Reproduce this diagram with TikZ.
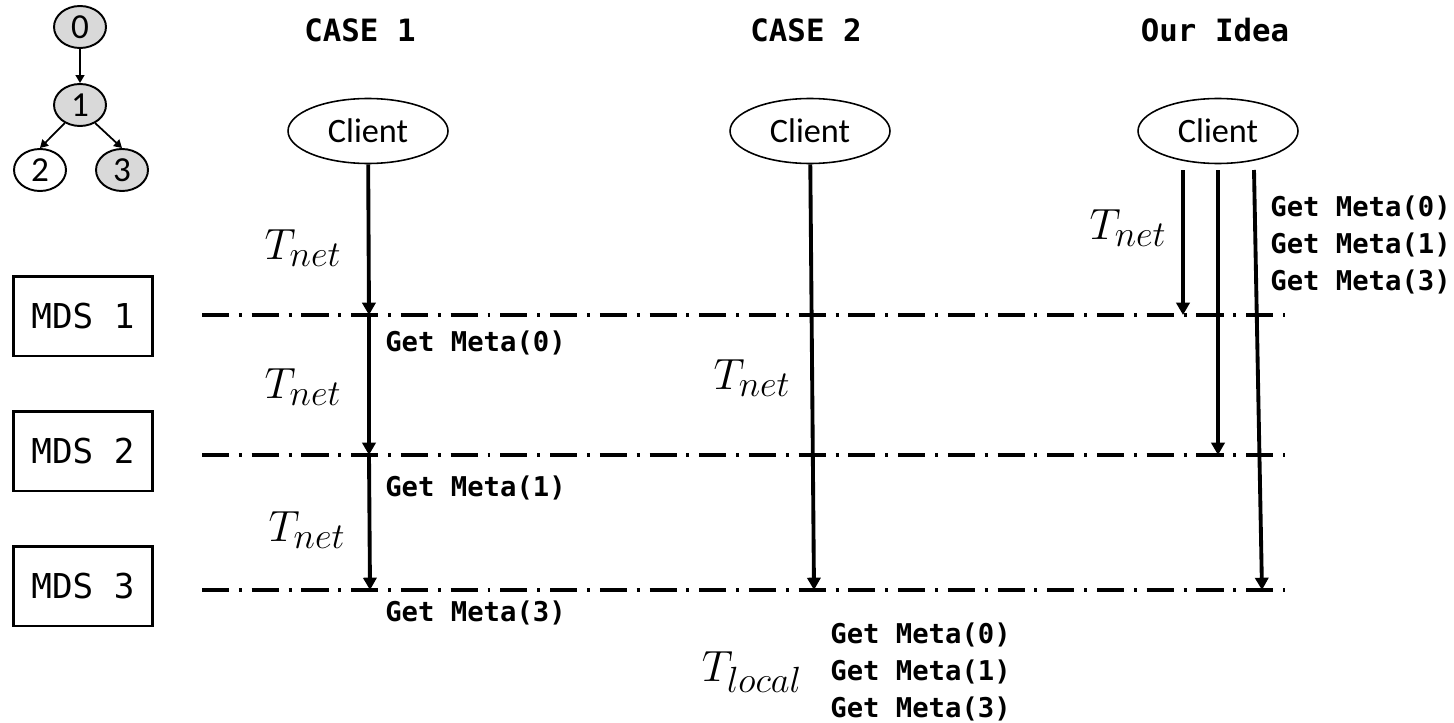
\documentclass[tikz,border=0pt]{standalone}
\usepackage{fontspec}
\setmainfont{Carlito}
\setmonofont{DejaVu Sans Mono}
\usetikzlibrary{arrows.meta,shapes.geometric}
\newcommand{\tcost}[1]{$T_{\mbox{\fontsize{20}{20}\selectfont$#1$}}$}
\tikzset{
  msg/.style={-{Triangle[length=7pt,width=7.5pt]},line width=2.2pt},
  treearrow/.style={-{Triangle[length=4.5pt,width=5pt]},line width=1pt},
  mdsline/.style={line width=1.8pt,dash pattern=on 15.4pt off 5.6pt on 1.7pt off 5.6pt},
  treenode/.style={ellipse,draw,line width=1.1pt,inner sep=0pt,minimum width=1.04cm,minimum height=0.84cm,font=\fontsize{20}{20}\selectfont},
  client/.style={ellipse,draw,line width=0.9pt,minimum width=3.2cm,minimum height=1.3cm,font=\fontsize{19.5}{20}\selectfont},
  mds/.style={draw,line width=1.7pt,minimum width=2.8cm,minimum height=1.6cm,font=\ttfamily\fontsize{19.5}{20}\selectfont},
  title/.style={font=\ttfamily\bfseries\fontsize{17.5}{18}\selectfont},
  call/.style={font=\ttfamily\bfseries\fontsize{15.5}{21}\selectfont,align=left,anchor=west,inner sep=0pt},
  cost/.style={font=\fontsize{24}{24}\selectfont}
}
\begin{document}
\begin{tikzpicture}[x=0.02cm,y=-0.02cm]
\useasboundingbox (0,0) rectangle (1454,723);
% metadata tree
\node[treenode,fill=gray!30] (t0) at (80,27) {0};
\node[treenode,fill=gray!30] (t1) at (80,105) {1};
\node[treenode] (t2) at (40,170) {2};
\node[treenode,fill=gray!30] (t3) at (122,170) {3};
\draw[treearrow] (t0) -- (t1);
\draw[treearrow] (t1.-130) -- (t2.north);
\draw[treearrow] (t1.-50) -- (t3.north);
% servers and their levels
\foreach \i/\yb/\yl in {1/316/315,2/451/455,3/586/590} {
  \node[mds] (mds\i) at (83,\yb) {MDS \i};
  \coordinate (lw\i) at (202,\yl);
  \coordinate (le\i) at (1285,\yl);
  \draw[mdsline] (lw\i) -- (le\i);
}
% titles and clients
\foreach \n/\x/\t in {1/360/CASE 1,2/806/CASE 2,3/1215/Our Idea} {
  \node[title] (case\n) at (\x,30) {\t};
}
\node[client] (client1) at (368,131) {Client};
\node[client] (client2) at (810,131) {Client};
\node[client] (client3) at (1218,131) {Client};
% case 1
\coordinate (a1) at (369,315);
\coordinate (a2) at (369,455);
\coordinate (a3) at (370,590);
\draw[msg] (client1) -- (a1);
\draw[msg] (a1) -- (a2);
\draw[msg] (a2) -- (a3);
\node[cost] (tn1) at (303,248) {\tcost{net}};
\node[cost] (tn2) at (303,387) {\tcost{net}};
\node[cost] (tn3) at (307,530) {\tcost{net}};
\node[call] (g0) at (385,343) {Get Meta(0)};
\node[call] (g1) at (385,488) {Get Meta(1)};
\node[call] (g3) at (385,613) {Get Meta(3)};
% case 2
\coordinate (b3) at (814,590);
\draw[msg] (client2) -- (b3);
\node[cost] (tn4) at (752,378) {\tcost{net}};
\node[cost] (tl) at (752,672) {\tcost{local}};
\node[call] (gl) at (830,672) {Get Meta(0)\\Get Meta(1)\\Get Meta(3)};
% our idea
\coordinate (s0) at (1183,170);
\coordinate (s1) at (1218,170);
\coordinate (s3) at (1254,170);
\coordinate (e0) at (1183,315);
\coordinate (e1) at (1218,455);
\coordinate (e3) at (1262,590);
\draw[msg] (s0) -- (e0);
\draw[msg] (s1) -- (e1);
\draw[msg] (s3) -- (e3);
\node[cost] (tn5) at (1128,228) {\tcost{net}};
\node[call] (gi) at (1270,245) {Get Meta(0)\\Get Meta(1)\\Get Meta(3)};
\end{tikzpicture}
\end{document}
